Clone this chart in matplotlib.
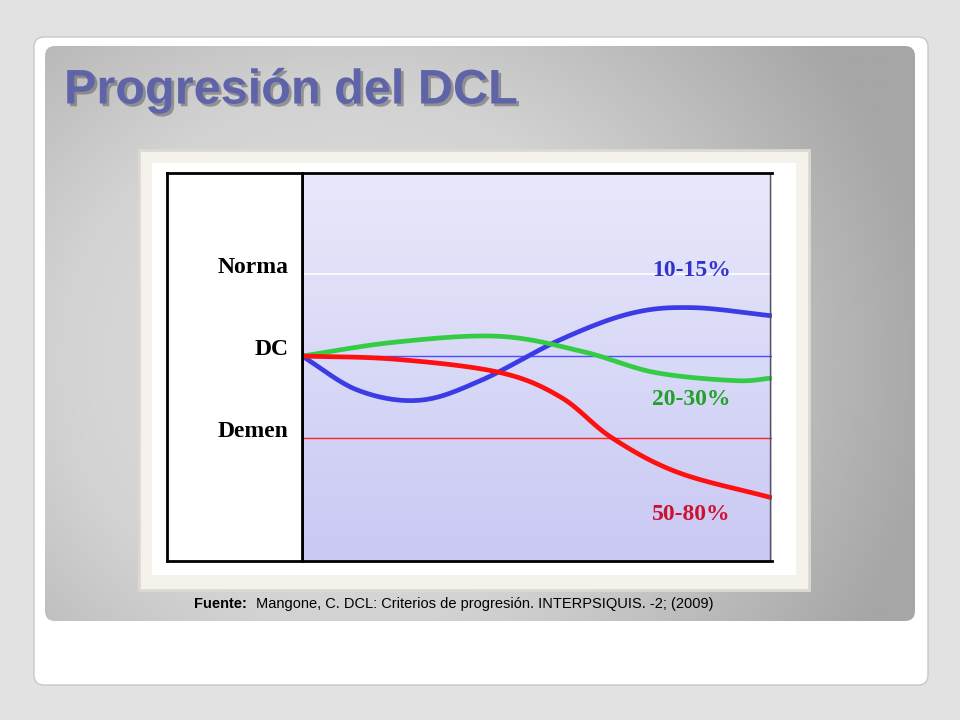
import matplotlib.pyplot as plt
import matplotlib.patheffects as pe
import numpy as np
from matplotlib.colors import LinearSegmentedColormap
from matplotlib.patches import FancyBboxPatch, Rectangle

# chart values (x: 0..1 across plot; y: DC=0, Norma=1, Demen=-1)
level_names = ["Norma", "DC", "Demen"]
level_values = [1.0, 0.0, -1.0]
blue_x = [0.0, 0.12, 0.25, 0.38, 0.55, 0.70, 0.83, 1.0]
blue_y = [0.0, -0.42, -0.54, -0.30, 0.20, 0.52, 0.59, 0.49]
green_x = [0.0, 0.20, 0.42, 0.60, 0.75, 0.92, 1.0]
green_y = [0.0, 0.17, 0.24, 0.05, -0.20, -0.30, -0.27]
red_x = [0.0, 0.20, 0.42, 0.55, 0.66, 0.80, 1.0]
red_y = [0.0, -0.04, -0.20, -0.50, -1.00, -1.42, -1.73]
series_labels = ["10-15%", "20-30%", "50-80%"]


def smooth(x, y, n=20):
    """Catmull-Rom curve through the given points."""
    x = np.asarray(x, float)
    y = np.asarray(y, float)
    px = np.r_[2 * x[0] - x[1], x, 2 * x[-1] - x[-2]]
    py = np.r_[2 * y[0] - y[1], y, 2 * y[-1] - y[-2]]
    xs, ys = [], []
    t = np.linspace(0, 1, n)
    for i in range(1, len(px) - 2):
        for p, out in ((px, xs), (py, ys)):
            p0, p1, p2, p3 = p[i - 1:i + 3]
            out.extend(0.5 * (2 * p1 + (-p0 + p2) * t + (2 * p0 - 5 * p1 + 4 * p2 - p3) * t**2
                              + (-p0 + 3 * p1 - 3 * p2 + p3) * t**3))
    return xs, ys


fig = plt.figure(figsize=(9.6, 7.2), dpi=100)
fig.patch.set_facecolor("#e2e2e2")
bg = fig.add_axes([0, 0, 1, 1])
bg.set_xlim(0, 960)
bg.set_ylim(720, 0)
bg.axis("off")
bg.add_patch(FancyBboxPatch((34, 37), 894, 648, boxstyle="round,pad=0,rounding_size=10",
                            fc="white", ec="#c8c8c8", lw=1))
gx = np.linspace(0, 1, 200)
img = np.sqrt(((gx[None, :] - 0.35) * 1.1) ** 2 + ((gx[:, None] - 0.55) * 0.8) ** 2)
greys = LinearSegmentedColormap.from_list("g", ["#e4e4e4", "#d2d2d2", "#a6a6a6"])
slide = bg.imshow(img, cmap=greys, vmin=0, vmax=0.75, extent=(45, 915, 621, 46), aspect="auto", zorder=1)
slide.set_clip_path(FancyBboxPatch((45, 46), 870, 575, boxstyle="round,pad=0,rounding_size=10",
                                   transform=bg.transData))
bg.text(64, 91, "Progresión del DCL", fontsize=35, fontweight="bold", color="#5f64a8",
        va="center", family="Liberation Sans", zorder=3,
        path_effects=[pe.withSimplePatchShadow(offset=(2, -2), shadow_rgbFace="#555555", alpha=0.5)])
bg.add_patch(Rectangle((139, 150), 670, 440, fc="#f4f2ea", ec="#dcdad0", lw=2, zorder=2))
bg.add_patch(Rectangle((152, 163), 644, 412, fc="white", ec="none", zorder=2))
bg.text(194, 604, "Fuente:", fontsize=10.5, fontweight="bold", family="Liberation Sans", va="center", zorder=3)
bg.text(256, 604, "Mangone, C. DCL: Criterios de progresión. INTERPSIQUIS. -2; (2009)",
        fontsize=10.5, family="Liberation Sans", va="center", zorder=3)

# plot area 302..772 px, y 173..560 px; 82 px per level
ax = fig.add_axes([302 / 960, 1 - 561 / 720, 470 / 960, 388 / 720])
ax.set_xlim(0, 1)
ax.set_ylim(-(561 - 356) / 82, (356 - 173) / 82)
lav = LinearSegmentedColormap.from_list("lav", ["#e8e8fb", "#c9c9f4"])
ax.imshow(np.linspace(0, 1, 100)[:, None], cmap=lav,
          extent=(0, 1, ax.get_ylim()[0], ax.get_ylim()[1]), aspect="auto", zorder=0)
ax.axhline(level_values[0], color="white", lw=1.2)
ax.axhline(level_values[1], color="#4d4dff", lw=1)
ax.axhline(level_values[2], color="#ff2020", lw=1)
for xs, ys, c in ((blue_x, blue_y, "#3c3ce6"), (green_x, green_y, "#33cc44"), (red_x, red_y, "#ff1010")):
    sx, sy = smooth(xs, ys)
    ax.plot(sx, sy, color=c, lw=3.4, solid_capstyle="butt")
lab_font = dict(family="Liberation Serif", fontweight="bold", fontsize=17)
ax.text(0.745, 0.97, series_labels[0], color="#3333cc", **lab_font)
ax.text(0.745, -0.6, series_labels[1], color="#22a02a", **lab_font)
ax.text(0.745, -2.0, series_labels[2], color="#cc1133", **lab_font)
ax.set_xticks([])
ax.set_yticks([])
for side in ("left", "bottom", "top"):
    ax.spines[side].set_linewidth(2)
ax.spines["right"].set_visible(False)
ax.axvline(0.995, color="#555555", lw=1)

# left label column
lx = fig.add_axes([167 / 960, 1 - 561 / 720, 135 / 960, 388 / 720])
lx.set_xlim(0, 1)
lx.set_ylim(ax.get_ylim())
lx.set_xticks([])
lx.set_yticks([])
for s in lx.spines.values():
    s.set_linewidth(2)
for name, v in zip(level_names, level_values):
    lx.text(0.9, v + 0.08, name, ha="right", va="center", **lab_font)

fig.savefig("out.png", dpi=100)
